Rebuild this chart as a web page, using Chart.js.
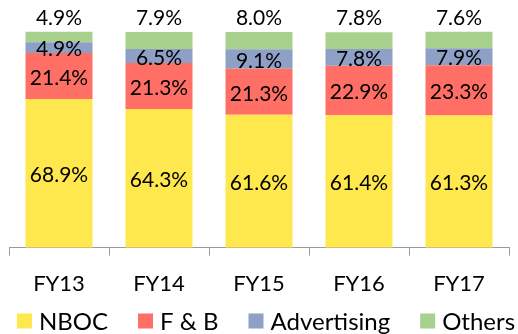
<!DOCTYPE html>
<html>
<head>
<meta charset="utf-8">
<script src="https://cdn.jsdelivr.net/npm/chart.js@4.4.0/dist/chart.umd.min.js"></script>
<style>
  html, body { margin: 0; padding: 0; background: #fff; }
  #wrap { width: 518px; height: 334px; position: relative; }
</style>
</head>
<body>
<div id="wrap"><canvas id="revChart"></canvas></div>
<script>
// Revenue mix by fiscal year (% share)
const years = ['FY13', 'FY14', 'FY15', 'FY16', 'FY17'];
const nboc = [68.9, 64.3, 61.6, 61.4, 61.3];
const fnb = [21.4, 21.3, 21.3, 22.9, 23.3];
const advertising = [4.9, 6.5, 9.1, 7.8, 7.9];
const others = [4.9, 7.9, 8.0, 7.8, 7.6];

const FONT = 'Lato, "Open Sans", sans-serif';

// Draws the percentage on each segment; the top series sits above the bar
const valueLabels = {
    id: 'valueLabels',
    afterDatasetsDraw(chart) {
        const ctx = chart.ctx;
        ctx.save();
        ctx.font = '21px ' + FONT;
        ctx.fillStyle = '#000';
        ctx.textAlign = 'center';
        ctx.textBaseline = 'middle';
        const last = chart.data.datasets.length - 1;
        chart.data.datasets.forEach((ds, i) => {
            chart.getDatasetMeta(i).data.forEach((bar, j) => {
                const text = ds.data[j].toFixed(1) + '%';
                if (i === last) {
                    ctx.fillText(text, bar.x, bar.y - 14);
                } else {
                    ctx.fillText(text, bar.x, (bar.y + bar.base) / 2 + 2);
                }
            });
        });
        ctx.restore();
    }
};

// Single-row legend under the axis with tighter box/text spacing
const bottomLegend = {
    id: 'bottomLegend',
    afterDraw(chart) {
        const ctx = chart.ctx;
        const box = 15, gap = 7, spacing = 30;
        ctx.save();
        ctx.font = '24px ' + FONT;
        ctx.textBaseline = 'middle';
        ctx.textAlign = 'left';
        const items = chart.data.datasets.map(ds => ({
            text: ds.label,
            color: ds.backgroundColor,
            w: box + gap + ctx.measureText(ds.label).width
        }));
        const total = items.reduce((s, it) => s + it.w, 0) + spacing * (items.length - 1);
        let x = 266 - total / 2;
        const y = 321;
        items.forEach(it => {
            ctx.fillStyle = it.color;
            ctx.fillRect(x, y - box / 2, box, box);
            ctx.fillStyle = '#000';
            ctx.fillText(it.text, x + box + gap, y + 1);
            x += it.w + spacing;
        });
        ctx.restore();
    }
};

const ctx = document.getElementById('revChart').getContext('2d');
new Chart(ctx, {
    type: 'bar',
    data: {
        labels: years,
        datasets: [
            { label: 'NBOC', data: nboc, backgroundColor: '#FFE84E' },
            { label: 'F & B', data: fnb, backgroundColor: '#FF6F66' },
            { label: 'Advertising', data: advertising, backgroundColor: '#8EA0C6' },
            { label: 'Others', data: others, backgroundColor: '#A9D18E' }
        ]
    },
    options: {
        responsive: true,
        maintainAspectRatio: false,
        animation: false,
        layout: { padding: { top: 32, left: 9, right: 9, bottom: 22 } },
        datasets: {
            bar: { categoryPercentage: 1.0, barPercentage: 0.67, clip: false }
        },
        scales: {
            x: {
                stacked: true,
                grid: {
                    display: true,
                    drawOnChartArea: false,
                    offset: true,
                    tickLength: 8,
                    color: '#9a9a9a'
                },
                border: { display: true, color: '#9a9a9a' },
                ticks: {
                    font: { family: FONT, size: 22 },
                    color: '#000',
                    padding: 15
                }
            },
            y: {
                stacked: true,
                display: false,
                min: 0,
                max: 100
            }
        },
        plugins: {
            legend: { display: false },
            tooltip: { enabled: false }
        }
    },
    plugins: [valueLabels, bottomLegend]
});
</script>
</body>
</html>
